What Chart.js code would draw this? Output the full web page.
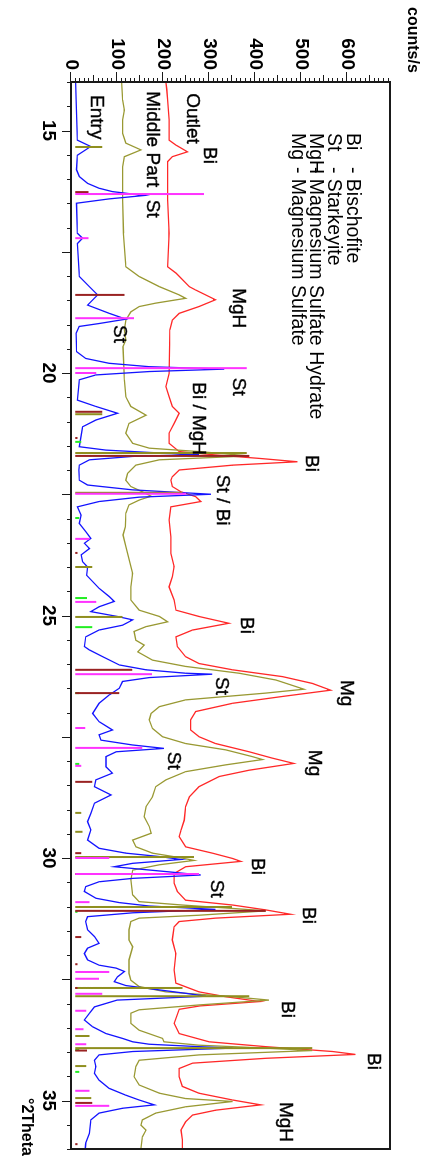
<!DOCTYPE html>
<html>
<head>
<meta charset="utf-8">
<script src="https://cdn.jsdelivr.net/npm/chart.js@4.4.1/dist/chart.umd.min.js"></script>
<style>
  html, body { margin: 0; padding: 0; background: #fff; overflow: hidden; }
  /* the chart is drawn landscape and turned a quarter clockwise */
  #wrap { position: absolute; left: 430px; top: 0; width: 1159px; height: 430px; transform-origin: 0 0; transform: rotate(90deg); }
</style>
</head>
<body>
<div id="wrap"><canvas id="xrd" width="1159" height="430"></canvas></div>
<script>
// ---- diffractograms (°2Theta, counts/s) ----
const thetaEntry = [14.00,14.37,15.20,15.33,15.51,15.81,15.95,16.09,16.19,16.26,16.34,16.41,16.50,17.12,17.22,17.33,18.01,18.22,18.39,18.60,18.77,18.89,18.98,19.04,19.18,19.56,19.70,19.80,19.87,19.92,19.97,20.04,20.14,20.56,20.69,20.83,20.97,21.11,21.52,21.59,21.64,21.68,21.72,21.79,21.90,22.00,22.21,22.31,22.41,22.50,22.56,22.65,22.76,22.93,23.10,23.27,23.41,23.51,23.62,23.75,23.89,24.00,24.17,24.30,24.44,24.61,24.71,24.82,24.92,25.02,25.09,25.20,25.30,25.44,25.64,25.71,25.85,26.02,26.12,26.19,26.21,26.28,26.36,26.50,26.64,26.81,27.02,27.19,27.36,27.46,27.57,27.67,27.74,27.81,27.91,28.12,28.25,28.39,28.53,28.70,28.87,29.08,29.25,29.42,29.63,29.80,29.90,29.97,30.03,30.11,30.18,30.28,30.35,30.42,30.49,30.59,30.69,30.83,30.92,30.99,31.06,31.13,31.21,31.31,31.48,31.62,31.76,31.86,31.97,32.10,32.21,32.27,32.34,32.45,32.55,32.63,32.72,32.79,32.85,32.93,33.07,33.20,33.34,33.48,33.62,33.72,33.79,33.84,33.89,33.92,33.99,34.06,34.17,34.30,34.44,34.58,34.75,34.89,34.99,35.09,35.16,35.26,35.40,35.68,35.88,36.00];
const countsEntry = [10,11,14,43,14,12,18,36,61,90,159,83,12,14,25,14,18,40,58,36,83,119,61,18,11,12,32,83,170,333,170,54,18,14,54,101,54,25,18,76,174,278,134,40,18,17,18,36,134,304,148,61,14,22,18,32,43,29,40,22,25,36,34,47,61,83,94,61,43,101,134,112,61,32,29,40,69,105,163,249,307,170,112,105,83,61,47,61,90,61,65,134,202,98,76,76,90,54,51,87,51,43,36,43,36,61,119,192,239,134,94,206,282,134,61,32,29,54,105,170,314,134,36,32,36,51,61,36,29,36,61,98,116,101,94,119,192,249,293,100,51,40,29,47,76,112,134,170,278,351,134,61,51,54,51,61,83,119,148,181,112,61,43,40,32,31];

const thetaMiddle = [14.00,14.37,14.58,14.78,15.06,15.26,15.40,15.54,15.75,16.43,17.12,17.81,18.01,18.22,18.39,18.46,18.56,18.63,18.74,18.91,19.11,19.32,19.46,20.14,20.49,20.69,20.87,21.04,21.24,21.45,21.55,21.62,21.71,21.79,21.90,22.07,22.21,22.34,22.45,22.54,22.62,22.72,22.89,23.17,23.34,23.58,23.99,24.13,24.41,24.68,24.89,25.02,25.13,25.23,25.33,25.51,25.61,25.75,25.92,26.05,26.19,26.33,26.52,26.60,26.74,26.88,27.02,27.15,27.33,27.50,27.64,27.77,27.91,27.97,28.08,28.22,28.39,28.53,28.74,28.94,29.15,29.35,29.49,29.63,29.77,29.90,29.99,30.05,30.14,30.25,30.45,30.76,30.90,30.97,31.04,31.09,31.18,31.24,31.31,31.48,31.69,31.83,32.10,32.38,32.52,32.65,32.76,32.86,32.93,33.03,33.13,33.20,33.41,33.55,33.72,33.79,33.86,33.92,33.97,34.06,34.17,34.30,34.51,34.68,34.85,34.96,35.02,35.13,35.26,35.40,35.51,35.61,35.75,36.00];
const countsMiddle = [110,112,116,112,112,119,152,116,112,112,114,119,148,192,235,249,184,148,130,119,116,119,113,116,119,130,163,126,119,134,170,278,387,192,141,123,119,130,155,174,148,126,119,118,113,119,130,134,130,130,148,192,210,163,137,141,159,145,177,249,365,445,506,423,249,192,174,170,177,199,249,336,394,416,336,249,206,184,177,163,159,170,174,134,141,177,235,267,192,134,130,134,148,242,351,423,278,148,130,126,126,134,126,126,130,148,206,351,430,278,148,130,130,148,199,202,278,423,524,278,148,141,137,148,192,249,351,249,184,155,152,163,155,152];

const thetaOutlet = [14.00,14.15,14.37,14.78,15.20,15.30,15.44,15.54,15.64,16.43,17.12,17.81,17.94,18.22,18.29,18.49,18.63,18.77,18.91,19.11,20.01,20.28,20.49,20.69,20.83,21.04,21.24,21.45,21.62,21.69,21.76,21.83,21.90,22.00,22.14,22.21,22.34,22.45,22.55,22.65,22.76,23.03,23.38,23.72,23.99,24.20,24.41,24.68,24.89,25.02,25.16,25.30,25.44,25.64,25.85,25.99,26.12,26.26,26.40,26.54,26.67,26.81,26.98,27.15,27.36,27.50,27.64,27.81,27.94,28.05,28.19,28.32,28.53,28.74,28.94,29.22,29.42,29.56,29.77,29.90,30.01,30.07,30.18,30.32,30.52,30.69,30.87,30.97,31.07,31.16,31.24,31.31,31.42,31.69,31.97,32.31,32.58,32.76,32.86,32.96,33.05,33.12,33.41,33.62,33.79,33.89,33.99,34.05,34.13,34.23,34.34,34.51,34.71,34.85,34.99,35.09,35.20,35.30,35.44,35.61,35.81,36.00];
const countsOutlet = [206,208,210,213,213,228,253,220,210,210,213,210,228,257,271,314,278,235,220,215,213,206,213,220,235,224,213,213,235,314,408,492,351,235,220,217,220,239,271,282,217,213,217,217,224,220,213,224,228,278,343,264,228,231,249,278,351,459,524,564,459,351,271,260,260,278,314,387,437,484,387,322,278,257,249,246,239,235,249,307,351,369,249,224,224,231,249,351,423,477,314,235,224,220,228,224,228,278,336,410,280,235,224,235,300,423,568,618,423,264,235,235,242,278,351,412,314,264,249,239,242,242];

// ---- reference patterns (stick position °2Theta, stick top counts/s) ----
const stickBase = 9;
const thetaSt = [16.31,17.22,18.87,19.90,20.00,22.49,23.42,24.72,26.21,27.32,27.73,28.10,30.00,30.33,30.91,32.35,32.49,32.80,33.15,33.53,33.84,34.80,35.11];
const topSt   = [289,38,137,382,55,250,40,55,176,31,155,22,83,278,40,83,61,68,33,27,33,40,83];
const thetaBi = [16.27,18.39,20.80,21.34,21.71,23.71,26.12,26.60,28.43,29.90,30.33,31.09,31.63,32.19,32.68,33.97,35.05,35.90];
const topBi   = [38,116,68,14,387,14,133,105,46,22,14,423,22,14,14,35,46,14];
const thetaMgH = [15.34,20.85,21.65,22.47,24.00,25.03,29.07,29.46,29.98,31.01,32.68,32.85,33.67,33.92,34.29,34.95];
const topMgH   = [68,68,382,242,46,112,22,25,267,350,242,387,40,524,33,44];
const thetaMg = [21.42,22.99,24.64,25.24,26.60,28.06,31.11,33.96,34.41];
const topMg   = [22,18,35,46,18,18,14,18,18];

// ---- axes ----
const thetaLabels = [15, 20, 25, 30, 35];
const countLabels = [0, 100, 200, 300, 400, 500, 600];

// ---- peak names and legend ----
const peakText   = ['Entry','Middle Part','St','Outlet','Bi','MgH','St','St','Bi / MgH','Bi','St / Bi','Bi','St','Mg','St','Mg','Bi','St','Bi','Bi','Bi','MgH'];
const peakTheta  = [14.27,14.19,16.43,14.23,15.34,18.25,19.01,20.10,20.19,21.69,22.10,25.03,26.27,26.33,27.81,27.77,30.00,30.45,31.01,32.95,34.02,35.03];
const peakCounts = [44,166,165,251,290,351,94,351,264,510,318,370,316,586,210,516,394,305,505,459,645,453];
const legendAbbr = ['Bi','St','MgH','Mg'];
const legendName = ['- Bischofite','- Starkeyite','- Magnesium Sulfate Hydrate','- Magnesium Sulfate'];
const legendCounts = [599, 558, 519, 480];

function pts(xs, ys) { return xs.map((x, i) => ({ x: x, y: ys[i] })); }
function sticks(xs, tops) {
    const d = [];
    xs.forEach((x, i) => { d.push({ x: x, y: stickBase }, { x: x, y: tops[i] }, { x: x, y: null }); });
    return d;
}

const FONT = '"Liberation Sans", Arial, sans-serif';
const NARROW = '"Liberation Sans Narrow", "Liberation Sans", Arial, sans-serif';

const decor = {
    id: 'decor',
    afterDraw(chart) {
        const { ctx, chartArea: a, scales: { x, y } } = chart;
        ctx.save();
        ctx.strokeStyle = '#1a1a1a';
        ctx.lineWidth = 2;
        ctx.strokeRect(a.left, a.top, a.right - a.left, a.bottom - a.top);

        // tick marks: counts every 10, 2Theta every 0.5
        ctx.lineWidth = 1;
        ctx.beginPath();
        for (let v = 0; v <= y.max; v += 10) {
            const p = Math.round(y.getPixelForValue(v)) + 0.5;
            const len = v % 100 === 0 ? 10 : (v % 50 === 0 ? 7 : 4);
            ctx.moveTo(a.left, p);
            ctx.lineTo(a.left - len, p);
        }
        for (let k = Math.ceil(x.min * 2); k <= x.max * 2; k++) {
            const p = Math.round(x.getPixelForValue(k / 2)) + 0.5;
            const len = k % 5 === 0 ? 9 : 4;
            ctx.moveTo(p, a.bottom);
            ctx.lineTo(p, a.bottom + len);
        }
        ctx.stroke();

        ctx.fillStyle = '#000';
        ctx.strokeStyle = '#000';
        ctx.lineWidth = 0.35;
        ctx.textAlign = 'left';
        ctx.textBaseline = 'alphabetic';
        ctx.font = '19px ' + FONT;
        peakText.forEach((t, i) => {
            const px = x.getPixelForValue(peakTheta[i]), py = y.getPixelForValue(peakCounts[i]);
            ctx.fillText(t, px, py);
            ctx.strokeText(t, px, py);
        });
        ctx.font = '19.5px ' + FONT;
        legendAbbr.forEach((t, i) => {
            const py = y.getPixelForValue(legendCounts[i]);
            ctx.fillText(t, x.getPixelForValue(15.05), py);
            ctx.fillText(legendName[i], x.getPixelForValue(15.75), py);
        });

        ctx.font = 'bold 16px ' + FONT;
        ctx.fillText('counts/s', a.left - 75, a.top - 18);
        ctx.fillText('°2Theta', a.right - 51, a.bottom + 49);
        ctx.restore();
    }
};

new Chart(document.getElementById('xrd'), {
    type: 'line',
    data: {
        datasets: [
            { label: 'Starkeyite', data: sticks(thetaSt, topSt), borderColor: '#ff33ff', borderWidth: 2 },
            { label: 'Bischofite', data: sticks(thetaBi, topBi), borderColor: '#992222', borderWidth: 2 },
            { label: 'Magnesium Sulfate Hydrate', data: sticks(thetaMgH, topMgH), borderColor: '#8f8f1f', borderWidth: 2 },
            { label: 'Magnesium Sulfate', data: sticks(thetaMg, topMg), borderColor: '#22ee22', borderWidth: 2 },
            { label: 'Entry', data: pts(thetaEntry, countsEntry), borderColor: '#1414ff', borderWidth: 1.3 },
            { label: 'Middle Part', data: pts(thetaMiddle, countsMiddle), borderColor: '#999933', borderWidth: 1.3 },
            { label: 'Outlet', data: pts(thetaOutlet, countsOutlet), borderColor: '#ff2828', borderWidth: 1.3 }
        ]
    },
    options: {
        responsive: false,
        animation: false,
        devicePixelRatio: 1,
        spanGaps: false,
        layout: { padding: { top: 40, right: 10, left: 0, bottom: 0 } },
        elements: { point: { radius: 0 }, line: { tension: 0 } },
        plugins: { legend: { display: false }, tooltip: { enabled: false } },
        scales: {
            x: {
                type: 'linear', min: 14, max: 36,
                grid: { display: false, drawTicks: false },
                border: { display: false },
                afterBuildTicks: s => { s.ticks = thetaLabels.map(v => ({ value: v })); },
                afterFit: s => { s.height = 71; },
                ticks: { color: '#000', padding: 11, maxRotation: 0, autoSkip: false, font: { family: NARROW, size: 19, weight: 'bold' } }
            },
            y: {
                type: 'linear', min: 0, max: 693,
                grid: { display: false, drawTicks: false },
                border: { display: false },
                afterBuildTicks: s => { s.ticks = countLabels.map(v => ({ value: v })); },
                afterFit: s => { s.width = 82; },
                ticks: { color: '#000', padding: 12, autoSkip: false, font: { family: NARROW, size: 19, weight: 'bold' } }
            }
        }
    },
    plugins: [decor]
});
</script>
</body>
</html>
